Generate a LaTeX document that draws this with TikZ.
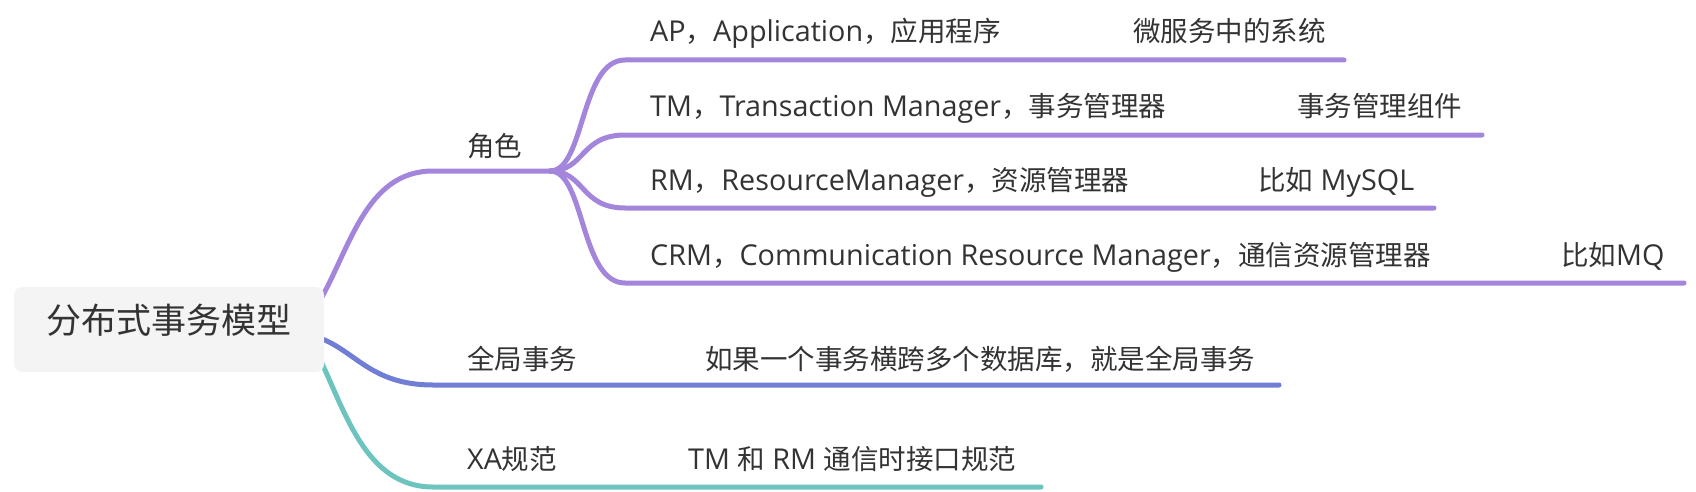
\documentclass[tikz,border=0pt]{standalone}
\usepackage{fontspec}
\setmainfont{Open Sans}[Scale=1.045]
\newfontfamily\zhfont{Noto Sans CJK SC}
\newcommand\zh[1]{{\zhfont #1}}
\usetikzlibrary{calc}
\definecolor{purp}{RGB}{163,134,219}
\definecolor{blu}{RGB}{113,126,214}
\definecolor{tea}{RGB}{109,196,190}
\definecolor{txt}{RGB}{51,51,51}
\definecolor{rootfill}{RGB}{244,244,244}
\pgfdeclarelayer{background}
\pgfsetlayers{background,main}
\begin{document}
\begin{tikzpicture}[x=1pt,y=-1pt,
  lbl/.style={anchor=base west, inner sep=0pt, text=txt, font=\fontsize{27.5}{33}\selectfont},
  rootbox/.style={fill=rootfill, rounded corners=8pt, minimum width=310pt, minimum height=85pt,
    inner sep=0pt, text=txt, font=\zhfont\fontsize{35}{42}\selectfont, text height=0.88em, text depth=0.12em},
  br/.style={line width=5pt, line cap=round}]
\useasboundingbox (0,0) rectangle (1696,492);

% root
\node[rootbox] (root) at (169,329.5) {分布式事务模型};

% junctions and ends
\coordinate (jA) at (433,171);
\coordinate (jB) at (550,171);
\coordinate (ap0) at (625,60);   \coordinate (ap1) at (1344,60);
\coordinate (tm0) at (625,135);  \coordinate (tm1) at (1482,135);
\coordinate (rm0) at (625,208);  \coordinate (rm1) at (1434,208);
\coordinate (crm0) at (625,283); \coordinate (crm1) at (1684,283);
\coordinate (gA) at (433,385);   \coordinate (gB) at (1279,385);
\coordinate (xA) at (433,487);   \coordinate (xB) at (1041,487);

\begin{pgfonlayer}{background}
\draw[br,purp] ($(root.east)+(-6,-26)$) .. controls (350,250) and (365,171) .. (jA) -- (jB);
\draw[br,purp] (jB) .. controls (585,171) and (580,60) .. (ap0) -- (ap1);
\draw[br,purp] (jB) .. controls (585,171) and (580,135) .. (tm0) -- (tm1);
\draw[br,purp] (jB) .. controls (585,171) and (580,208) .. (rm0) -- (rm1);
\draw[br,purp] (jB) .. controls (585,171) and (580,283) .. (crm0) -- (crm1);
\draw[br,blu] ($(root.east)+(-6,8)$) .. controls (355,350) and (370,385) .. (gA) -- (gB);
\draw[br,tea] ($(root.east)+(-6,26)$) .. controls (345,410) and (365,487) .. (xA) -- (xB);
\end{pgfonlayer}

% labels
\node[lbl] (role) at (467,156) {\zh{角色}};
\node[lbl] (ap) at (650,42) {AP\zh{，}Application\zh{，应用程序}};
\node[lbl] (apd) at (1133,42) {\zh{微服务中的系统}};
\node[lbl] (tm) at (650,117) {TM\zh{，}Transaction Manager\zh{，事务管理器}};
\node[lbl] (tmd) at (1297,117) {\zh{事务管理组件}};
\node[lbl] (rm) at (650,190) {RM\zh{，}ResourceManager\zh{，资源管理器}};
\node[lbl] (rmd) at (1258,190) {\zh{比如} MySQL};
\node[lbl] (crm) at (650,265) {CRM\zh{，}Communication Resource Manager\zh{，通信资源管理器}};
\node[lbl] (crmd) at (1561,265) {\zh{比如}MQ};
\node[lbl] (glob) at (467,369) {\zh{全局事务}};
\node[lbl] (globd) at (705,369) {\zh{如果一个事务横跨多个数据库，就是全局事务}};
\node[lbl] (xa) at (467,469) {XA\zh{规范}};
\node[lbl] (xad) at (688,469) {TM \zh{和} RM \zh{通信时接口规范}};
\end{tikzpicture}
\end{document}
